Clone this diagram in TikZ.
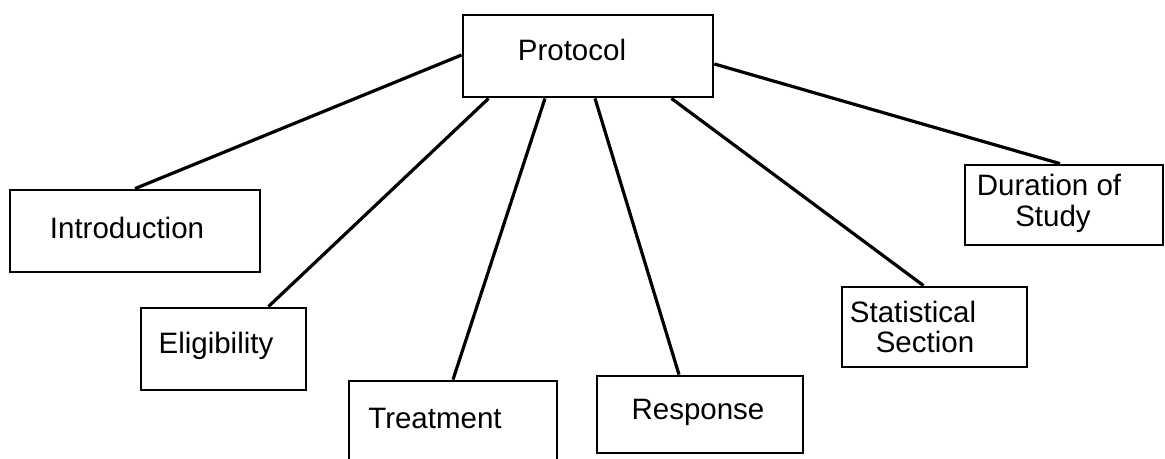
\documentclass[tikz,border=0pt]{standalone}
\usepackage{fontspec}
\setmainfont{Liberation Sans}
\begin{document}
\begin{tikzpicture}[x=1pt,y=-1pt,
  box/.style={draw=black, line width=2.8pt, rectangle, inner sep=0pt},
  lbl/.style={anchor=base, inner sep=0pt, font=\fontsize{29.5}{34}\selectfont},
  link/.style={draw=black, line width=3.2pt}]
\useasboundingbox (0,0) rectangle (1165,458);
\clip (0,0) rectangle (1165,458);
% boxes
\node[box, minimum width=250pt, minimum height=82pt] (proto) at (588,56) {};
\node[box, minimum width=250pt, minimum height=82pt] (intro) at (135,231) {};
\node[box, minimum width=165pt, minimum height=82pt] (eli) at (223.5,349) {};
\node[box, minimum width=208pt, minimum height=100pt] (treat) at (453,431) {};
\node[box, minimum width=206pt, minimum height=77pt] (resp) at (700,414.5) {};
\node[box, minimum width=185pt, minimum height=80pt] (stat) at (934.5,327) {};
\node[box, minimum width=198pt, minimum height=80pt] (dur) at (1064,205) {};
% labels
\node[lbl] (tproto) at (572,60) {Protocol};
\node[lbl] (tintro) at (127,238) {Introduction};
\node[lbl] (teli) at (216,353) {Eligibility};
\node[lbl] (ttreat) at (435,428) {Treatment};
\node[lbl] (tresp) at (698,419) {Response};
\node[lbl] (tstat1) at (913,322) {Statistical};
\node[lbl] (tstat2) at (925,352) {Section};
\node[lbl] (tdur1) at (1049,195) {Duration of};
\node[lbl] (tdur2) at (1053,226) {Study};
% connectors
\draw[link] ([yshift=1pt]proto.west) -- (intro.north);
\draw[link] ([xshift=27pt]proto.south west) -- ([xshift=-39pt]eli.north east);
\draw[link] ([xshift=-43pt]proto.south) -- (treat.north);
\draw[link] ([xshift=7pt]proto.south) -- ([xshift=-21pt]resp.north);
\draw[link] ([xshift=-43pt]proto.south east) -- ([xshift=-11pt]stat.north);
\draw[link] ([yshift=-8pt]proto.east) -- ([xshift=-4pt]dur.north);
\end{tikzpicture}
\end{document}
